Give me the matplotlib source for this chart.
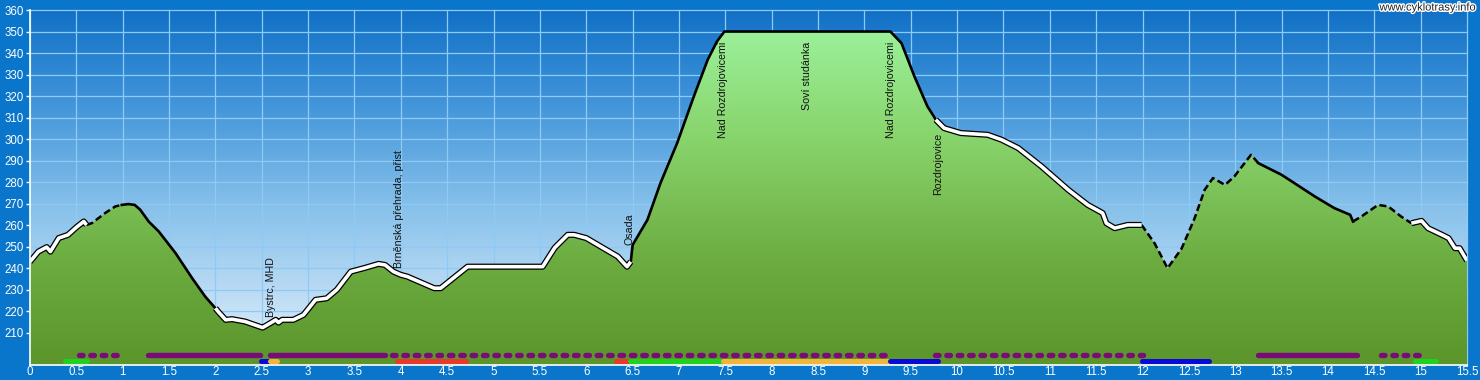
import numpy as np
import matplotlib
matplotlib.use('Agg')
import matplotlib.pyplot as plt
from matplotlib.colors import LinearSegmentedColormap
from matplotlib.patches import Polygon
import matplotlib.patheffects as pe

plt.rcParams['font.family'] = ['Liberation Sans', 'DejaVu Sans']

# ---------------- data ----------------
dist = [0.00, 0.09, 0.18, 0.22, 0.31, 0.41, 0.50, 0.58, 0.61, 0.67, 0.81, 0.92, 0.99, 1.06, 1.13,
        1.19, 1.28, 1.39, 1.57, 1.75, 1.89, 2.00, 2.03, 2.11, 2.18, 2.32, 2.48, 2.51, 2.59, 2.65,
        2.68, 2.72, 2.84, 2.95, 3.08, 3.20, 3.31, 3.46, 3.60, 3.76, 3.83, 3.92, 4.00, 4.07, 4.36,
        4.43, 4.72, 5.53, 5.66, 5.80, 5.87, 6.00, 6.34, 6.39, 6.44, 6.48, 6.50, 6.66, 6.80, 6.98,
        7.16, 7.31, 7.41, 7.49, 9.28, 9.40, 9.54, 9.68, 9.75, 9.77, 9.86, 10.04, 10.33, 10.48,
        10.66, 10.91, 11.20, 11.41, 11.57, 11.61, 11.70, 11.84, 11.99, 12.13, 12.27, 12.42, 12.56,
        12.67, 12.76, 12.89, 12.99, 13.17, 13.25, 13.50, 13.86, 14.07, 14.24, 14.27, 14.36, 14.54,
        14.65, 14.79, 14.90, 15.01, 15.08, 15.23, 15.30, 15.37, 15.42, 15.50]
elev = [243.0, 247.7, 249.8, 247.7, 254.0, 255.5, 259.0, 261.7, 260.1, 261.0, 265.6, 268.7, 269.4, 269.8, 269.4,
        267.1, 261.7, 257.0, 247.0, 235.3, 226.8, 221.4, 219.8, 216.0, 216.3, 215.2, 212.8, 212.4, 214.4, 216.0,
        214.7, 216.0, 216.0, 218.3, 225.3, 226.0, 230.0, 238.4, 240.0, 242.0, 241.5, 238.4, 236.9, 236.1, 230.7,
        230.7, 240.7, 240.7, 249.5, 255.5, 255.5, 254.0, 245.4, 243.0, 240.7, 243.0, 250.8, 262.5, 279.5, 298.1,
        319.8, 336.9, 345.4, 350.0, 350.0, 344.6, 329.1, 315.2, 310.5, 309.0, 305.1, 302.8, 302.0, 299.7,
        295.8, 287.3, 276.4, 269.4, 265.6, 260.9, 258.6, 260.1, 260.1, 251.6, 240.0, 249.0, 263.0,
        276.4, 281.9, 278.7, 282.6, 292.7, 288.8, 283.4, 273.3, 267.9, 264.8, 261.7, 264.0, 269.4,
        268.7, 264.0, 260.9, 262.0, 258.6, 255.5, 254.0, 249.3, 249.3, 243.5]

# surface segments of the profile line
seg_start = [0.00, 0.61, 0.99, 2.00, 6.48, 9.77, 11.99, 13.25, 14.27, 14.90]
seg_end = [0.61, 0.99, 2.00, 6.48, 9.77, 11.99, 13.25, 14.27, 14.90, 15.50]
seg_kind = ['road', 'path', 'forest', 'road', 'forest', 'road', 'path', 'forest', 'path', 'road']

# waypoint labels
label_text = ["Bystrc, MHD", "Brněnská přehrada, přist", "Osada", "Nad Rozdrojovicemi",
              "Soví studánka", "Nad Rozdrojovicemi", "Rozdrojovice"]
label_x = [2.60, 3.98, 6.47, 7.48, 8.38, 9.29, 9.79]
label_y = [217.5, 240.0, 250.8, 300.5, 313.6, 300.5, 274.0]

# marked routes (purple row)
purple_solid = [(1.27, 2.48), (2.59, 3.83), (13.25, 14.31)]
purple_dotted = [(0.53, 0.95), (3.91, 9.30), (9.76, 12.00), (14.57, 15.00)]

# colored route row
bar_start = [0.38, 2.49, 2.59, 3.96, 6.32, 6.47, 7.48, 9.28, 11.99, 14.94]
bar_end = [0.61, 2.57, 2.66, 4.70, 6.45, 7.46, 9.27, 9.79, 12.72, 15.17]
bar_color = ['#1ED21E', '#0A0AD8', '#F2B53A', '#E8392C', '#E8392C', '#1ED21E',
             '#F2B53A', '#0A0AD8', '#0A0AD8', '#1ED21E']

x_ticks = np.arange(0, 15.51, 0.5)
y_ticks = np.arange(210, 361, 10)
XMIN, XMAX, YMIN, YMAX = 0.0, 15.5, 195.0, 360.0

# ---------------- figure ----------------
fig = plt.figure(figsize=(14.8, 3.8), dpi=100)
fig.patch.set_facecolor('#0A76CB')
ax = fig.add_axes([30 / 1480, 15 / 380, 1437 / 1480, 355 / 380])
ax.set_xlim(XMIN, XMAX)
ax.set_ylim(YMIN, YMAX)

# sky gradient
sky = LinearSegmentedColormap.from_list('sky', [(0.0, '#E6F2FC'), (0.45, '#86C0EA'),
                                                (0.75, '#3F93D9'), (1.0, '#1170C6')])
grad = np.linspace(0, 1, 256).reshape(-1, 1)
ax.imshow(grad, extent=[XMIN, XMAX, YMIN, YMAX], origin='lower', aspect='auto',
          cmap=sky, zorder=0)

# grid
for xv in x_ticks:
    ax.axvline(xv, color='#8DCBF6', lw=0.9, zorder=1, clip_on=False)
for yv in y_ticks:
    ax.axhline(yv, color='#8DCBF6', lw=0.9, zorder=1, clip_on=False)

# terrain fill with vertical gradient
verts = [(dist[0], YMIN)] + list(zip(dist, elev)) + [(dist[-1], YMIN)]
poly = Polygon(verts, closed=True, facecolor='none', edgecolor='none')
ax.add_patch(poly)
green = LinearSegmentedColormap.from_list('grn', [(0.0, '#5B952B'), (0.27, '#6AAA3E'),
                                                  (0.45, '#79BE54'), (0.64, '#88D46C'),
                                                  (0.94, '#9BF099'), (1.0, '#A0F4A0')])
im = ax.imshow(grad, extent=[XMIN, XMAX, YMIN, YMAX], origin='lower', aspect='auto',
               cmap=green, zorder=2)
im.set_clip_path(poly)

# profile line by segment
d = np.array(dist)
e = np.array(elev)
for s, en, k in zip(seg_start, seg_end, seg_kind):
    i0 = int(np.searchsorted(d, s - 1e-6))
    i1 = int(np.searchsorted(d, en + 1e-6))
    xs, ys = d[i0:i1], e[i0:i1]
    if k == 'road':
        ax.plot(xs, ys, color='black', lw=4.4, solid_capstyle='butt', solid_joinstyle='round', zorder=4)
        ax.plot(xs, ys, color='white', lw=2.6, solid_capstyle='butt', solid_joinstyle='round', zorder=5)
    elif k == 'path':
        ax.plot(xs, ys, color='black', lw=1.8, linestyle=(0, (2.8, 1.4)), zorder=4)
    else:
        ax.plot(xs, ys, color='black', lw=1.9, solid_joinstyle='round', zorder=4)

# labels
for t, lx, ly in zip(label_text, label_x, label_y):
    ax.text(lx, ly, t, rotation=90, ha='center', va='bottom', fontsize=7.7,
            color='#111111', zorder=6)

# bottom route rows
for s, en in purple_solid:
    ax.plot([s, en], [199.8, 199.8], color='#7A0C78', lw=3.9, solid_capstyle='round',
            zorder=6, clip_on=False)
for s, en in purple_dotted:
    ax.plot([s, en], [199.8, 199.8], color='#7A0C78', lw=3.9, linestyle=(0, (0.65, 1.45)),
            dash_capstyle='round', zorder=6, clip_on=False)
for s, en, c in zip(bar_start, bar_end, bar_color):
    ax.plot([s, en], [197.0, 197.0], color=c, lw=3.6, solid_capstyle='round',
            zorder=6, clip_on=False)

# axes styling
ax.set_xticks(x_ticks)
ax.set_xticklabels([f'{v:g}' for v in x_ticks])
ax.set_yticks(y_ticks)
ax.set_yticklabels([f'{int(v)}' for v in y_ticks])
ax.tick_params(axis='y', colors='white', labelcolor='white', length=3, width=1, labelsize=8.3, pad=1.5)
ax.tick_params(axis='x', colors='white', labelcolor='white', length=0, width=1, labelsize=8.3, pad=1.0)
for side in ['top', 'right']:
    ax.spines[side].set_visible(False)
for side in ['left', 'bottom']:
    ax.spines[side].set_color('white')
    ax.spines[side].set_linewidth(1.2)
    ax.spines[side].set_zorder(7)

fig.text(1476 / 1480, 1 - 7.5 / 380, 'www.cyklotrasy.info', ha='right', va='center',
         fontsize=8, color='#222222',
         path_effects=[pe.withStroke(linewidth=2, foreground='white')])

fig.savefig('out.png', dpi=100, facecolor=fig.get_facecolor())
